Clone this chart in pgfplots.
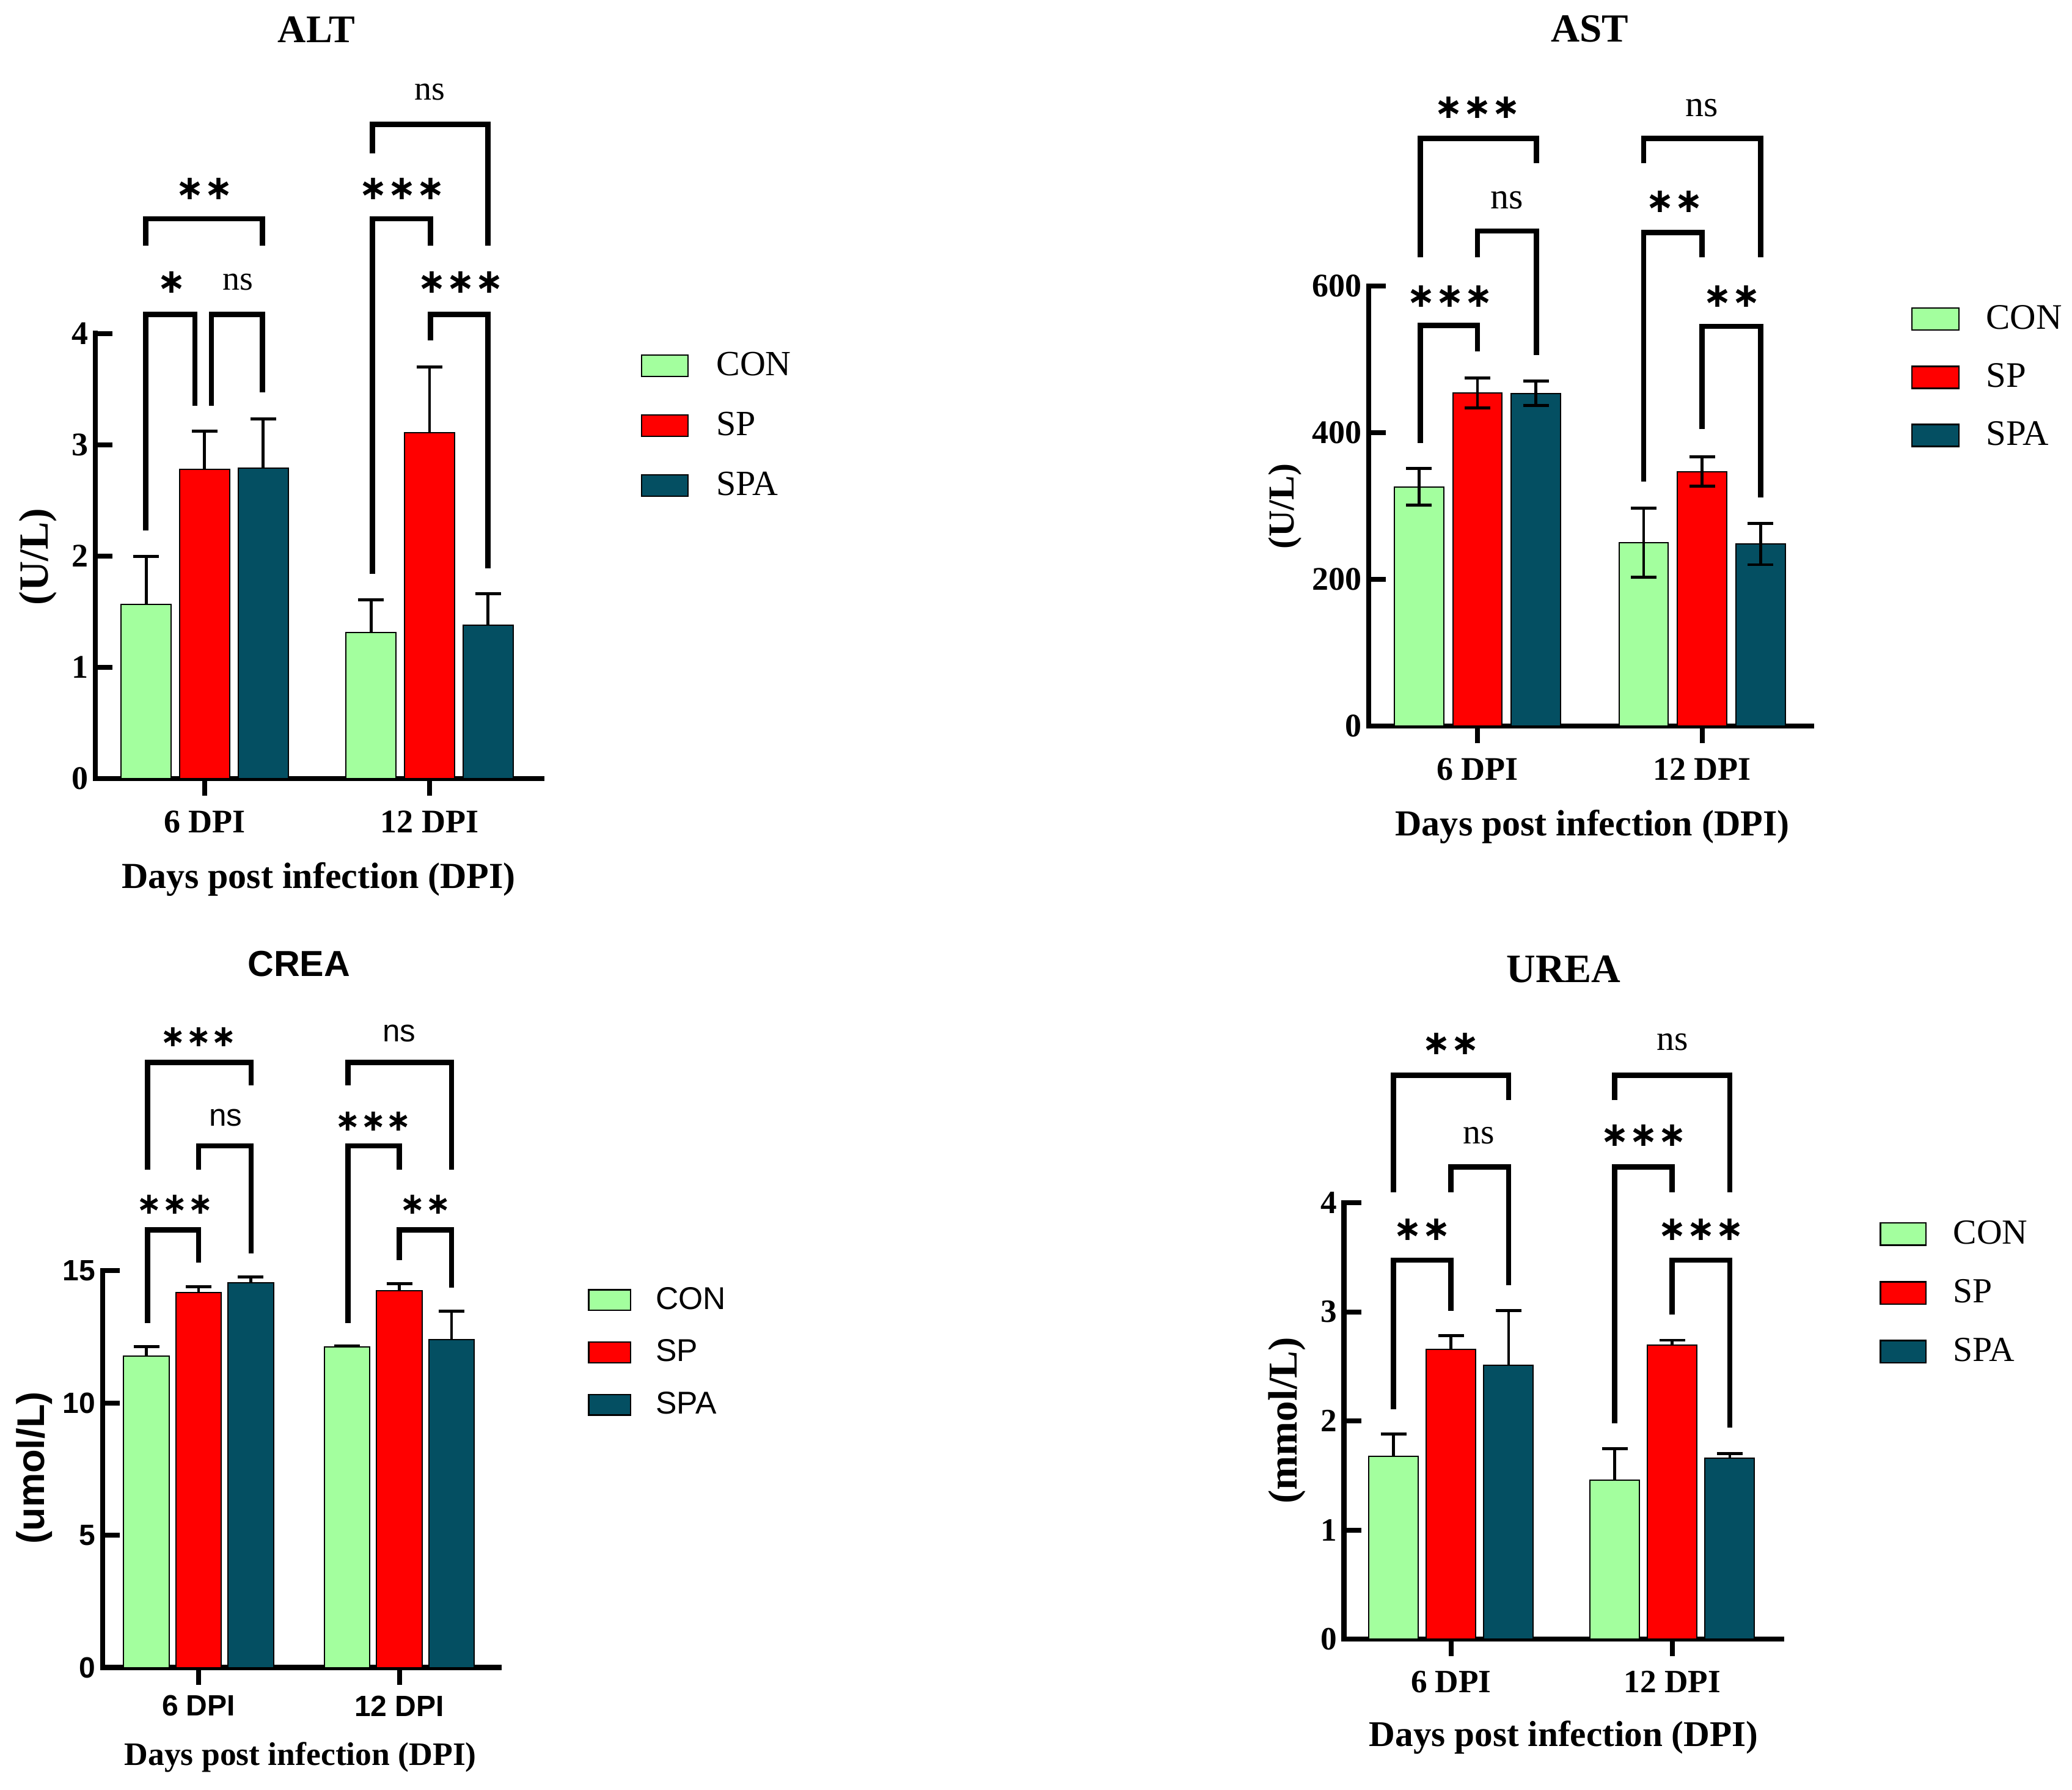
\documentclass[border=0pt]{standalone}
\usepackage{fontspec}
\setmainfont{Liberation Serif}
\newfontfamily\arial{Liberation Sans}
\newfontfamily\djv{DejaVu Sans}
\usepackage{pgfplots}
\usepackage{pgfplotstable}
\pgfplotsset{compat=1.18}

\definecolor{cgreen}{HTML}{A3FF9E}
\definecolor{cred}{HTML}{FF0000}
\definecolor{cteal}{HTML}{044F62}

\newcommand{\fs}[1]{\fontsize{#1}{#1}\selectfont}
\newcommand{\sone}{{\djv\bfseries ∗}}
\newcommand{\stwo}{{\djv\bfseries ∗∗}}
\newcommand{\sthree}{{\djv\bfseries ∗∗∗}}

% ALT (U/L): value and upper error
\pgfplotstableread{
x con conE sp spE spa spaE
0 1.565 0.430 2.777 0.343 2.788 0.445
1 1.311 0.295 3.109 0.591 1.378 0.285
}\altdata
% AST (U/L): mean and symmetric error
\pgfplotstableread{
x con conE sp spE spa spaE
0 326 25 454 20.5 453.6 16.5
1 250 47 347 20 248 28
}\astdata
% CREA (umol/L)
\pgfplotstableread{
x con conE sp spE spa spaE
0 11.76 0.36 14.16 0.23 14.54 0.21
1 12.12 0.04 14.24 0.26 12.39 1.08
}\creadata
% UREA (mmol/L)
\pgfplotstableread{
x con conE sp spE spa spaE
0 1.673 0.205 2.658 0.122 2.510 0.500
1 1.459 0.286 2.694 0.046 1.658 0.041
}\ureadata

\tikzset{br/.style={line width=2.2pt, line join=miter, black}}

\pgfplotsset{
  base/.style={
    scale only axis, clip=false,
    axis x line*=bottom, axis y line*=left,
    axis line style={line width=2.2pt, line cap=rect, -},
    x axis line style={-}, y axis line style={-},
    ymin=0, xtick={0,1}, xticklabels={6 DPI,12 DPI},
    xtick align=outside, ytick align=inside,
    major tick length=7pt,
    xtick style={line width=2pt, black},
    ytick style={line width=2pt, black},
    /pgf/number format/assume math mode=true,
    yticklabel style={inner xsep=2.8pt},
    legend cell align=left,
  },
  lg/.style 2 args={
    legend style={draw=none, fill=none, inner sep=0pt, outer sep=0pt,
      at={(#1,#2)}, anchor=north west,
      nodes={inner sep=0pt, outer sep=0pt}},
  },
  errst/.style={error bars/y explicit,
    error bars/error bar style={line width=1.2pt, black},
    error bars/error mark options={rotate=90, black, line width=1.2pt, mark size=5.25pt}},
  pcon/.style={ybar, bar width=#1, bar shift=0, fill=cgreen, draw=black, line width=0.5pt, errst},
  psp/.style={ybar, bar width=#1, bar shift=0, fill=cred, draw=black, line width=0.5pt, errst},
  pspa/.style={ybar, bar width=#1, bar shift=0, fill=cteal, draw=black, line width=0.5pt, errst},
}

\begin{document}
\begin{tikzpicture}
\useasboundingbox (0,0) rectangle (847.75pt,732pt);

% ---------------- ALT ----------------
\begin{axis}[base,
  at={(39pt,413.5pt)}, anchor=south west,
  width=182.75pt, height=182.1pt,
  xmin=-0.486, xmax=1.5, ymax=4, ytick={0,1,2,3,4},
  tick label style={font=\fs{13.5}\bfseries},
  xticklabel style={anchor=center, yshift=-10.75pt},
  title={ALT}, title style={font=\fs{16}\bfseries, at={(0.495,1.650)}, anchor=center, yshift=0pt},
  xlabel={Days post infection (DPI)}, xlabel style={font=\fs{15}\bfseries, at={(0.5,-0.226)}, anchor=center},
  ylabel={(U/L)}, ylabel style={font=\fs{17}\bfseries, at={(-0.128,0.498)}, anchor=center},
  lg={1.2216}{0.958},
  legend style={font=\fs{14.5}, row sep=13.4pt, /tikz/every odd column/.append style={column sep=11.25pt}},
  legend image code/.code={\draw[#1,line width=0.6pt] (0pt,-4.37pt) rectangle (19pt,4.37pt);},
]
\addplot[pcon=0.223, error bars/y dir=plus] table[x expr=\thisrow{x}-0.26, y=con, y error=conE] {\altdata};
\addplot[psp=0.223, error bars/y dir=plus] table[x=x, y=sp, y error=spE] {\altdata};
\addplot[pspa=0.223, error bars/y dir=plus] table[x expr=\thisrow{x}+0.26, y=spa, y error=spaE] {\altdata};
\legend{CON,SP,SPA}
\draw[br] (axis cs:-0.261,2.23) |- (axis cs:-0.043,4.17) -- (axis cs:-0.043,3.35);
\node[font=\fs{14}] at (axis cs:-0.147,4.46) {\sone};
\draw[br] (axis cs:0.03,3.35) |- (axis cs:0.258,4.17) -- (axis cs:0.258,3.47);
\node[font=\fs{14}] at (axis cs:0.149,4.46) {ns};
\draw[br] (axis cs:-0.261,4.79) |- (axis cs:0.258,5.03) -- (axis cs:0.258,4.79);
\node[font=\fs{14}] at (axis cs:0,5.30) {\stwo};
\draw[br] (axis cs:0.747,1.84) |- (axis cs:1.005,5.03) -- (axis cs:1.005,4.79);
\node[font=\fs{14}] at (axis cs:0.878,5.30) {\sthree};
\draw[br] (axis cs:1.005,3.94) |- (axis cs:1.26,4.17) -- (axis cs:1.26,1.89);
\node[font=\fs{14}] at (axis cs:1.139,4.46) {\sthree};
\draw[br] (axis cs:0.747,5.62) |- (axis cs:1.26,5.88) -- (axis cs:1.26,4.79);
\node[font=\fs{14}] at (axis cs:1.0,6.17) {ns};
\end{axis}

% ---------------- AST ----------------
\begin{axis}[base,
  at={(560pt,435pt)}, anchor=south west,
  width=181.25pt, height=180pt,
  xmin=-0.484, xmax=1.488, ymax=600, ytick={0,200,400,600},
  tick label style={font=\fs{13.5}\bfseries},
  xticklabel style={anchor=center, yshift=-10.75pt},
  title={AST}, title style={font=\fs{16.3}\bfseries, at={(0.499,1.551)}, anchor=center, yshift=0pt},
  xlabel={Days post infection (DPI)}, xlabel style={font=\fs{15}\bfseries, at={(0.505,-0.229)}, anchor=center},
  ylabel={(U/L)}, ylabel style={font=\fs{15}\bfseries, at={(-0.189,0.499)}, anchor=center},
  lg={1.2248}{0.956},
  legend style={font=\fs{14.7}, row sep=12.55pt, /tikz/every odd column/.append style={column sep=10.75pt}},
  legend image code/.code={\draw[#1,line width=0.6pt] (0pt,-4.5pt) rectangle (19.25pt,4.5pt);},
]
\addplot[pcon=0.22, error bars/y dir=both] table[x expr=\thisrow{x}-0.26, y=con, y error=conE] {\astdata};
\addplot[psp=0.22, error bars/y dir=both] table[x=x, y=sp, y error=spE] {\astdata};
\addplot[pspa=0.22, error bars/y dir=both] table[x expr=\thisrow{x}+0.26, y=spa, y error=spaE] {\astdata};
\legend{CON,SP,SPA}
\draw[br] (axis cs:-0.255,386) |- (axis cs:0,546) -- (axis cs:0,511);
\node[font=\fs{14}] at (axis cs:-0.122,586) {\sthree};
\draw[br] (axis cs:0,639) |- (axis cs:0.262,675) -- (axis cs:0.262,506);
\node[font=\fs{15}] at (axis cs:0.132,717) {ns};
\draw[br] (axis cs:-0.255,639) |- (axis cs:0.262,801.5) -- (axis cs:0.262,767.5);
\node[font=\fs{14}] at (axis cs:0,843) {\sthree};
\draw[br] (axis cs:0.74,333.6) |- (axis cs:1.0,673) -- (axis cs:1.0,639);
\node[font=\fs{14}] at (axis cs:0.878,715) {\stwo};
\draw[br] (axis cs:1.0,405) |- (axis cs:1.26,545) -- (axis cs:1.26,312);
\node[font=\fs{14}] at (axis cs:1.134,586) {\stwo};
\draw[br] (axis cs:0.74,767.5) |- (axis cs:1.26,801.5) -- (axis cs:1.26,639);
\node[font=\fs{15}] at (axis cs:1.0,843) {ns};
\end{axis}

% ---------------- CREA ----------------
\begin{axis}[base,
  at={(42pt,49.85pt)}, anchor=south west,
  width=162.2pt, height=162.4pt,
  xmin=-0.478, xmax=1.497, ymax=15, ytick={0,5,10,15},
  tick label style={font=\arial\fs{12}\bfseries},
  xticklabel style={anchor=center, yshift=-8.7pt},
  title={CREA}, title style={font=\arial\fs{14.8}\bfseries, at={(0.495,1.735)}, anchor=center, yshift=0pt},
  xlabel={Days post infection (DPI)}, xlabel style={font=\fs{13.4}\bfseries, at={(0.499,-0.226)}, anchor=center},
  ylabel={(umol/L)}, ylabel style={font=\arial\fs{15.8}\bfseries, at={(-0.173,0.503)}, anchor=center},
  lg={1.224}{0.958},
  legend style={font=\arial\fs{12.9}, row sep=10.9pt, /tikz/every odd column/.append style={column sep=10pt}},
  legend image code/.code={\draw[#1,line width=0.6pt] (0pt,-4.2pt) rectangle (17.2pt,4.2pt);},
]
\addplot[pcon=0.227, error bars/y dir=plus] table[x expr=\thisrow{x}-0.26, y=con, y error=conE] {\creadata};
\addplot[psp=0.227, error bars/y dir=plus] table[x=x, y=sp, y error=spE] {\creadata};
\addplot[pspa=0.227, error bars/y dir=plus] table[x expr=\thisrow{x}+0.26, y=spa, y error=spaE] {\creadata};
\legend{CON,SP,SPA}
\draw[br] (axis cs:-0.255,13.02) |- (axis cs:0,16.54) -- (axis cs:0,15.30);
\node[font=\fs{12.4}] at (axis cs:-0.118,17.5) {\sthree};
\draw[br] (axis cs:0,18.81) |- (axis cs:0.262,19.71) -- (axis cs:0.262,15.65);
\node[font=\arial\fs{12.8}] at (axis cs:0.134,20.77) {ns};
\draw[br] (axis cs:-0.255,18.81) |- (axis cs:0.262,22.87) -- (axis cs:0.262,22.0);
\node[font=\fs{12.4}] at (axis cs:0,23.82) {\sthree};
\draw[br] (axis cs:0.745,13.02) |- (axis cs:1.0,19.71) -- (axis cs:1.0,18.81);
\node[font=\fs{12.4}] at (axis cs:0.87,20.64) {\sthree};
\draw[br] (axis cs:1.0,15.40) |- (axis cs:1.26,16.54) -- (axis cs:1.26,14.35);
\node[font=\fs{12.4}] at (axis cs:1.13,17.5) {\stwo};
\draw[br] (axis cs:0.745,22.0) |- (axis cs:1.26,22.87) -- (axis cs:1.26,18.81);
\node[font=\arial\fs{12.8}] at (axis cs:1.0,23.96) {ns};
\end{axis}

% ---------------- UREA ----------------
\begin{axis}[base,
  at={(549.9pt,61.5pt)}, anchor=south west,
  width=179pt, height=178.5pt,
  xmin=-0.484, xmax=1.494, ymax=4, ytick={0,1,2,3,4},
  tick label style={font=\fs{13.3}\bfseries},
  xticklabel style={anchor=center, yshift=-10.5pt},
  title={UREA}, title style={font=\fs{16.5}\bfseries, at={(0.502,1.501)}, anchor=center, yshift=0pt},
  xlabel={Days post infection (DPI)}, xlabel style={font=\fs{14.8}\bfseries, at={(0.502,-0.225)}, anchor=center},
  ylabel={(mmol/L)}, ylabel style={font=\fs{16.8}\bfseries, at={(-0.131,0.501)}, anchor=center},
  lg={1.2246}{0.959},
  legend style={font=\fs{14.4}, row sep=13pt, /tikz/every odd column/.append style={column sep=10.9pt}},
  legend image code/.code={\draw[#1,line width=0.6pt] (0pt,-4.55pt) rectangle (18.6pt,4.55pt);},
]
\addplot[pcon=0.224, error bars/y dir=plus] table[x expr=\thisrow{x}-0.26, y=con, y error=conE] {\ureadata};
\addplot[psp=0.224, error bars/y dir=plus] table[x=x, y=sp, y error=spE] {\ureadata};
\addplot[pspa=0.224, error bars/y dir=plus] table[x expr=\thisrow{x}+0.26, y=spa, y error=spaE] {\ureadata};
\legend{CON,SP,SPA}
\draw[br] (axis cs:-0.26,2.107) |- (axis cs:0,3.474) -- (axis cs:0,3.01);
\node[font=\fs{14}] at (axis cs:-0.13,3.755) {\stwo};
\draw[br] (axis cs:0,4.097) |- (axis cs:0.26,4.327) -- (axis cs:0.26,3.245);
\node[font=\fs{14.4}] at (axis cs:0.125,4.617) {ns};
\draw[br] (axis cs:-0.26,4.097) |- (axis cs:0.26,5.168) -- (axis cs:0.26,4.939);
\node[font=\fs{14}] at (axis cs:0,5.459) {\stwo};
\draw[br] (axis cs:0.74,1.98) |- (axis cs:1.0,4.327) -- (axis cs:1.0,4.097);
\node[font=\fs{14}] at (axis cs:0.87,4.617) {\sthree};
\draw[br] (axis cs:1.0,2.974) |- (axis cs:1.26,3.474) -- (axis cs:1.26,1.939);
\node[font=\fs{14}] at (axis cs:1.13,3.755) {\sthree};
\draw[br] (axis cs:0.74,4.939) |- (axis cs:1.26,5.168) -- (axis cs:1.26,4.097);
\node[font=\fs{14.4}] at (axis cs:1.0,5.474) {ns};
\end{axis}
\end{tikzpicture}
\end{document}
